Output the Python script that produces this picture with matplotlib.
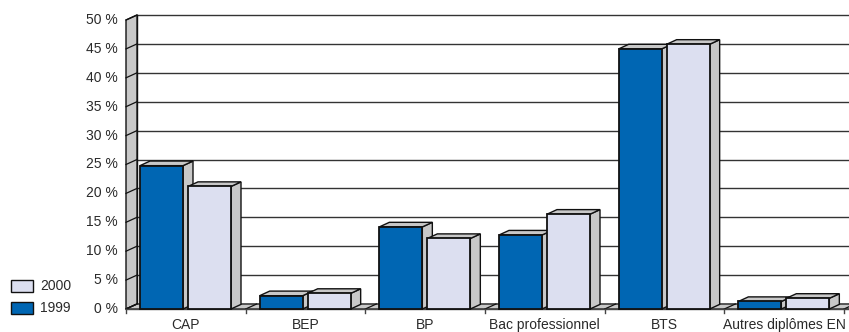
import matplotlib
matplotlib.use("Agg")
import matplotlib.pyplot as plt
from matplotlib.patches import Polygon, Rectangle
from matplotlib.lines import Line2D

categories = ["CAP", "BEP", "BP", "Bac professionnel", "BTS", "Autres diplômes EN"]
values_1999 = [24.8, 2.3, 14.2, 12.8, 45.0, 1.3]
values_2000 = [21.2, 2.7, 12.2, 16.4, 45.8, 1.85]
yticks = [0, 5, 10, 15, 20, 25, 30, 35, 40, 45, 50]

C1999 = "#0066b3"
C2000 = "#dcdff0"
SIDE = "#c8c8c8"
EDGE = "#111111"
TEXT = "#2a2a2a"
FONT = ["Liberation Sans", "DejaVu Sans"]

W, H = 849, 332
fig = plt.figure(figsize=(W / 100, H / 100), dpi=100)
fig.patch.set_facecolor("white")

# plot region in pixels: front floor y=309, front top y=20, x from 126, 6 categories
left_px, right_px = 126, 844
bot_px, top_px = 309, 20
ax = fig.add_axes([left_px / W, (H - bot_px) / H, (right_px - left_px) / W, (bot_px - top_px) / H])
n = len(categories)
ax.set_xlim(0, n)
ax.set_ylim(0, 50)
ax.axis("off")

cat_px = (right_px - left_px) / n
val_px = (bot_px - top_px) / 50
dx = 11 / cat_px      # depth offset (x)
dy = 5 / val_px       # depth offset (y)
bdx = 10 / cat_px
bdy = 4.6 / val_px

# back wall with gridlines
ax.add_patch(Rectangle((dx, dy), n + 1, 50, facecolor="white", edgecolor="none", zorder=0, clip_on=False))
for t in yticks:
    ax.add_line(Line2D([dx, n + 1], [t + dy, t + dy], color="#333333", lw=1.0, zorder=1, clip_on=False))
ax.add_line(Line2D([dx, dx], [dy, 50 + dy], color=EDGE, lw=1.0, zorder=2, clip_on=False))

# left side wall
ax.add_patch(Polygon([(0, 0), (0, 50), (dx, 50 + dy), (dx, dy)], closed=True,
                     facecolor=SIDE, edgecolor=EDGE, lw=1.0, zorder=2, clip_on=False))
for t in yticks:
    ax.add_line(Line2D([0, dx], [t, t + dy], color=EDGE, lw=0.9, zorder=3, clip_on=False))

# floor
ax.add_patch(Polygon([(0, 0), (n + 1, 0), (n + 1 + dx, dy), (dx, dy)], closed=True,
                     facecolor=SIDE, edgecolor=EDGE, lw=0.9, zorder=2, clip_on=False))
for i in range(n + 1):
    ax.add_line(Line2D([i, i + dx], [0, dy], color=EDGE, lw=0.9, zorder=3, clip_on=False))

# front axis line and category ticks
ax.add_line(Line2D([0, n + 1], [0, 0], color="#444444", lw=1.0, zorder=3, clip_on=False))
for i in range(n + 1):
    ax.add_line(Line2D([i, i], [0, -4 / val_px], color="#444444", lw=1.0, zorder=3, clip_on=False))


def bar3d(x0, w, h, color, z):
    ax.add_patch(Polygon([(x0 + w, 0), (x0 + w + bdx, bdy), (x0 + w + bdx, h + bdy), (x0 + w, h)],
                         closed=True, facecolor=SIDE, edgecolor=EDGE, lw=1.0, zorder=z, clip_on=False))
    ax.add_patch(Polygon([(x0, h), (x0 + w, h), (x0 + w + bdx, h + bdy), (x0 + bdx, h + bdy)],
                         closed=True, facecolor=SIDE, edgecolor=EDGE, lw=1.0, zorder=z, clip_on=False))
    ax.add_patch(Rectangle((x0, 0), w, h, facecolor=color, edgecolor=EDGE, lw=1.3, zorder=z, clip_on=False))


bw = 43 / cat_px
off1 = 14 / cat_px
off2 = 62 / cat_px
for i in range(n):
    bar3d(i + off1, bw, values_1999[i], C1999, 4 + 2 * i)
    bar3d(i + off2, bw, values_2000[i], C2000, 5 + 2 * i)

# tick labels
for t in yticks:
    ax.text(-8 / cat_px, t, f"{t} %", ha="right", va="center", fontsize=10, family=FONT, color=TEXT)
for i, c in enumerate(categories):
    ax.text(i + 0.5, -16 / val_px, c, ha="center", va="center", fontsize=10, family=FONT, color=TEXT)

# legend
for label, color, ypx in [("2000", C2000, 286), ("1999", C1999, 308)]:
    fig.patches.append(Rectangle((11 / W, (H - ypx - 6) / H), 22 / W, 12 / H, transform=fig.transFigure,
                                 facecolor=color, edgecolor=EDGE, lw=1.0))
    fig.text(40 / W, (H - ypx) / H, label, ha="left", va="center", fontsize=10, family=FONT, color=TEXT)

fig.savefig("out.png", dpi=100)
